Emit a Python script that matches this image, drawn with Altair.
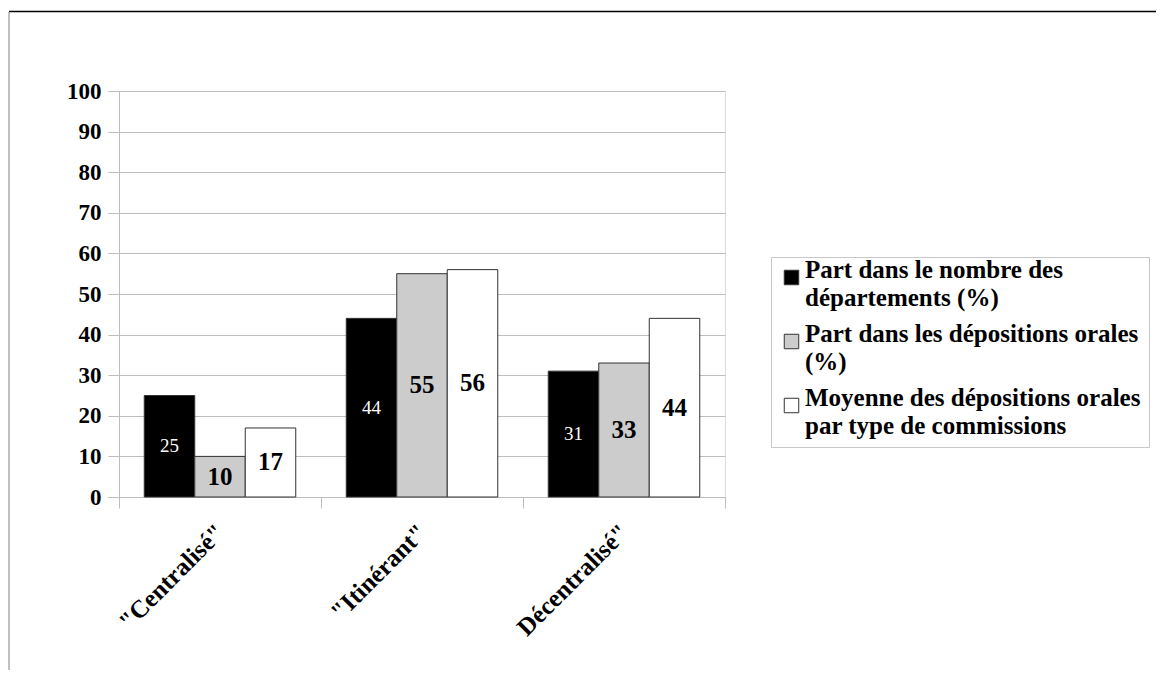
import altair as alt
import pandas as pd

categories = ['"Centralisé"', '"Itinérant"', 'Décentralisé"']
series = [
    "Part dans le nombre des\ndépartements (%)",
    "Part dans les dépositions orales\n(%)",
    "Moyenne des dépositions orales\npar type de commissions",
]
part_departements = [25, 44, 31]
part_depositions = [10, 55, 33]
moyenne_depositions = [17, 56, 44]
colors = ["#000000", "#cccccc", "#ffffff"]

rows = []
for i, c in enumerate(categories):
    for s, vals in zip(series, [part_departements, part_depositions, moyenne_depositions]):
        rows.append({"cat": c, "serie": s, "val": vals[i]})
df = pd.DataFrame(rows)

FONT = "Liberation Serif"
GRID = "#bdbdbd"

x_enc = alt.X(
    "cat:N",
    sort=categories,
    title=None,
    scale=alt.Scale(paddingInner=0, paddingOuter=0),
    axis=alt.Axis(
        labelAngle=-45,
        labelAlign="right",
        labelBaseline="middle",
        tickBand="extent",
        tickSize=11,
        tickColor=GRID,
        domainColor=GRID,
        labelFont=FONT,
        labelFontSize=25,
        labelFontWeight="bold",
        labelColor="#000000",
        labelPadding=20,
        grid=False,
    ),
)
xoff = alt.XOffset(
    "serie:N", sort=series, scale=alt.Scale(paddingInner=0, paddingOuter=0.5)
)
y_enc = alt.Y(
    "val:Q",
    title=None,
    scale=alt.Scale(domain=[0, 100], nice=False),
    axis=alt.Axis(
        values=list(range(0, 101, 10)),
        tickSize=11,
        tickColor=GRID,
        domainColor=GRID,
        gridColor=GRID,
        labelFont=FONT,
        labelFontSize=23,
        labelFontWeight="bold",
        labelColor="#000000",
        labelPadding=7,
    ),
)

base = alt.Chart(df)

bars = base.mark_bar(stroke="#333333", strokeWidth=1).encode(
    x=x_enc,
    xOffset=xoff,
    y=y_enc,
    fill=alt.Fill(
        "serie:N",
        sort=series,
        scale=alt.Scale(domain=series, range=colors),
        legend=alt.Legend(
            title=None,
            orient="none",
            legendX=652,
            legendY=166,
            symbolType="square",
            symbolSize=210,
            symbolStrokeColor="#333333",
            symbolStrokeWidth=1,
            labelFont=FONT,
            labelFontSize=25,
            labelFontWeight="bold",
            labelColor="#000000",
            labelLimit=500,
            labelOffset=1,
            labelBaseline="alphabetic",
            labelExpr="split(datum.label, '\\n')",
            strokeColor="#c8c8c8",
            fillColor="#ffffff",
            padding=8,
            rowPadding=10,
        ),
    ),
)

labels_white = (
    base.transform_filter(alt.datum.serie == series[0])
    .transform_calculate(mid="datum.val / 2")
    .mark_text(font=FONT, fontSize=19, color="#ffffff", baseline="middle")
    .encode(x=alt.X("cat:N", sort=categories), xOffset=xoff, y=alt.Y("mid:Q"), text="val:Q")
)
labels_black = (
    base.transform_filter(alt.datum.serie != series[0])
    .transform_calculate(mid="datum.val / 2")
    .mark_text(font=FONT, fontSize=25, fontWeight="bold", color="#000000", baseline="middle")
    .encode(x=alt.X("cat:N", sort=categories), xOffset=xoff, y=alt.Y("mid:Q"), text="val:Q")
)

frame_data = alt.Data(values=[{"k": 1}])
frame_top = alt.Chart(frame_data).mark_rule(color="#000000", strokeWidth=1.5).encode(
    x=alt.value(-110), x2=alt.value(1100), y=alt.value(-79.5)
)
frame_left = alt.Chart(frame_data).mark_rule(color="#808080", strokeWidth=1).encode(
    x=alt.value(-110), y=alt.value(-79), y2=alt.value(600)
)

chart = (
    alt.layer(bars, labels_white, labels_black, frame_top, frame_left)
    .properties(
        width=606,
        height=406,
        autosize=alt.AutoSizeParams(type="none"),
        padding={"left": 111, "top": 83, "right": 431, "bottom": 173},
    )
    .configure_view(stroke=GRID)
    .configure(background="#ffffff", style={"guide-label": {"lineHeight": 28}})
)

chart.save("out.html", embed_options={"renderer": "svg", "actions": False})
